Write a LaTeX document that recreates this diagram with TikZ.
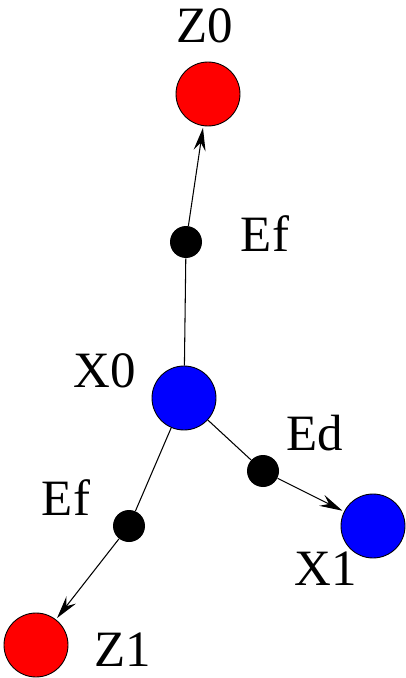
\documentclass[tikz,border=0pt]{standalone}
\usepackage{fontspec}
\setmainfont{Liberation Serif}
\usetikzlibrary{arrows.meta}

\begin{document}
\begin{tikzpicture}[
x=0.02cm,y=-0.02cm,
state/.style={circle,draw,line width=0.5pt,inner sep=0pt,minimum size=1.28cm},
dot/.style={circle,fill=black,inner sep=0pt,minimum size=0.64cm},
lbl/.style={inner sep=1pt,font=\fontsize{29}{34}\selectfont},
edge/.style={line width=0.6pt},
arrow/.style={edge,-{Stealth[length=4.6mm,width=2.4mm,inset=1.6mm]},shorten >=1pt},
]
\useasboundingbox (0,0) rectangle (405,678);
% states
\node[state,fill=red] (z0) at (208,94) {};
\node[state,fill=blue] (x0) at (184,398) {};
\node[state,fill=blue] (x1) at (373,526) {};
\node[state,fill=red] (z1) at (36,645) {};
% factors
\node[dot] (ef0) at (186,242) {};
\node[dot] (ed) at (263,471) {};
\node[dot] (ef1) at (129,526) {};
% labels
\node[lbl] (lz0) at (205,26) {Z0};
\node[lbl] (lef0) at (265,234) {Ef};
\node[lbl] (lx0) at (105,371) {X0};
\node[lbl] (led) at (315,433) {Ed};
\node[lbl] (lef1) at (66,498) {Ef};
\node[lbl] (lx1) at (326,569) {X1};
\node[lbl] (lz1) at (123,650) {Z1};
% connectors
\draw[edge] (x0) -- (ef0);
\draw[arrow] (ef0) -- (z0);
\draw[edge] (x0) -- (ed);
\draw[arrow] (ed) -- (x1);
\draw[edge] (x0) -- (ef1);
\draw[arrow] (ef1) -- (z1);
\end{tikzpicture}
\end{document}
